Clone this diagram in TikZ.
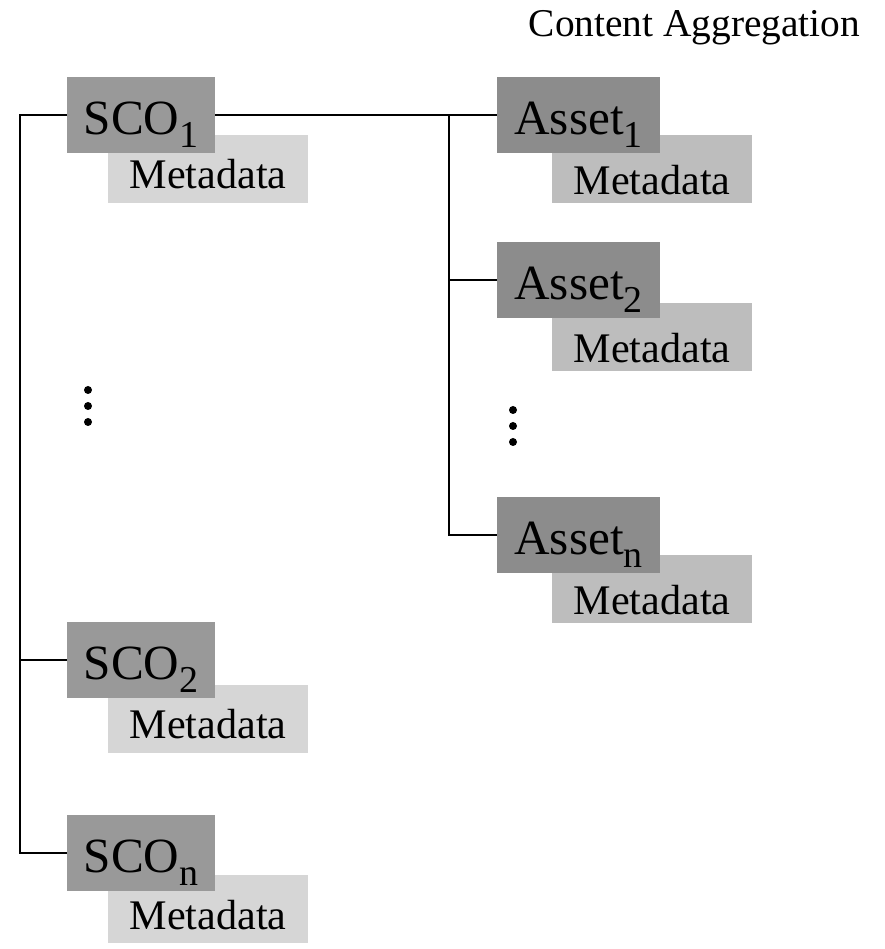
\documentclass[tikz,border=0pt]{standalone}
\usepackage{fontspec}
\setmainfont{Liberation Serif}
\usepackage{tikz}
\usetikzlibrary{positioning}

\newcommand{\lowidx}[1]{\raisebox{-0.32cm}{\fontsize{27pt}{27pt}\selectfont #1}}

\tikzset{
  itembox/.style={fill=black!40, anchor=north west, inner xsep=0pt, inner ysep=0pt, outer sep=0pt,
    minimum width=3.7cm, text height=1.45cm, text depth=0.45cm, font=\fontsize{35pt}{35pt}\selectfont},
  assetbox/.style={itembox, fill=black!45, minimum width=4.075cm},
  metabox/.style={fill=black!16, anchor=north west, inner xsep=0pt, inner ysep=0pt, outer sep=0pt,
    minimum width=5cm, text height=1.35cm, text depth=0.35cm, font=\fontsize{30pt}{30pt}\selectfont},
  assetmeta/.style={metabox, fill=black!26, text height=1.5cm, text depth=0.2cm},
  tree/.style={line width=1.5pt}
}

\begin{document}
\begin{tikzpicture}
\useasboundingbox (0,0) rectangle (22.1,23.725);

% title
\node[anchor=base east, font=\fontsize{28pt}{28pt}\selectfont] (title) at (21.625,22.8) {Content Aggregation};

% SCOs
\node[metabox] (sco1meta) at (2.7,20.35) {Metadata};
\node[itembox] (sco1) at (1.675,21.8) {SCO\lowidx{1}};
\node[metabox] (sco2meta) at (2.7,6.6) {Metadata};
\node[itembox] (sco2) at (1.675,8.175) {SCO\lowidx{2}};
\node[metabox] (sconmeta) at (2.7,1.85) {Metadata};
\node[itembox] (scon) at (1.675,3.35) {SCO\lowidx{n}};

% Assets
\node[assetmeta] (asset1meta) at (13.8,20.35) {Metadata};
\node[assetbox] (asset1) at (12.425,21.8) {Asset\lowidx{1}};
\node[assetmeta] (asset2meta) at (13.8,16.15) {Metadata};
\node[assetbox] (asset2) at (12.425,17.675) {Asset\lowidx{2}};
\node[assetmeta] (assetnmeta) at (13.8,9.85) {Metadata};
\node[assetbox] (assetn) at (12.425,11.3) {Asset\lowidx{n}};

% tree lines
\coordinate (scorail) at (0.5,0);
\coordinate (assetrail) at (11.225,0);
\draw[tree] (sco1.west) -- (sco1.west -| scorail) |- (scon.west);
\draw[tree] (sco2.west) -- (sco2.west -| scorail);
\draw[tree] (sco1.east) -- (asset1.west);
\draw[tree] (asset1.west -| assetrail) |- (assetn.west);
\draw[tree] (asset2.west) -- (asset2.west -| assetrail);

% dots
\foreach \y in {13.975,13.575,13.175} {
    \fill (2.2,\y) circle (0.1);
}
\foreach \y in {13.475,13.075,12.675} {
    \fill (12.825,\y) circle (0.1);
}
\end{tikzpicture}
\end{document}
